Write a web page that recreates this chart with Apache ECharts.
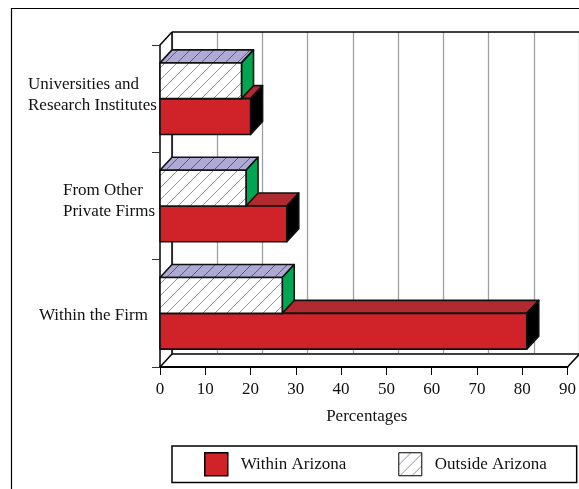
<!DOCTYPE html>
<html lang="en">

<head>
  <meta charset="UTF-8">
  <title>Percentages by source</title>
  <script src="https://cdn.jsdelivr.net/npm/echarts@6/dist/echarts.min.js"></script>
  <style>
    html, body { margin: 0; padding: 0; background: #fff; overflow: hidden; }
  </style>
</head>

<body>
  <div id="chart" style="width: 579px;height: 489px"></div>
  <script>
    // data, bottom category first
    var categories = ['Within the Firm', 'From Other\nPrivate Firms', 'Universities and\nResearch Institutes']
    var withinArizona = [81, 28, 20]
    var outsideArizona = [27, 19, 18]
    var xTicks = [0, 10, 20, 30, 40, 50, 60, 70, 80, 90]

    var FONT = '"Liberation Serif", "Times New Roman", serif'
    var DX = 12 // 3d depth of the boxes
    var DY = -13

    function hatch(bg, line) {
      var c = document.createElement('canvas')
      c.width = 12
      c.height = 12
      var g = c.getContext('2d')
      if (bg) {
        g.fillStyle = bg
        g.fillRect(0, 0, 12, 12)
      }
      g.strokeStyle = line
      g.lineWidth = 0.8
      g.beginPath()
      g.moveTo(-1, 13)
      g.lineTo(13, -1)
      g.moveTo(-1, 1)
      g.lineTo(1, -1)
      g.moveTo(11, 13)
      g.lineTo(13, 11)
      g.stroke()
      return { image: c, repeat: 'repeat' }
    }
    var hatchWhite = hatch('#ffffff', '#6f6ca6')
    var hatchTop = hatch('#aeaad4', '#45436e')

    // one 3d box: front, top, side
    function box(x0, x1, y0, y1, front, top, side) {
      function poly(points, fill) {
        return {
          type: 'polygon',
          shape: { points: points },
          style: { fill: fill, stroke: '#111', lineWidth: 1.6, lineJoin: 'round' }
        }
      }
      return {
        type: 'group',
        children: [
          poly([[x0, y0], [x0 + DX, y0 + DY], [x1 + DX, y0 + DY], [x1, y0]], top),
          poly([[x1, y0], [x1 + DX, y0 + DY], [x1 + DX, y1 + DY], [x1, y1]], side),
          poly([[x0, y0], [x1, y0], [x1, y1], [x0, y1]], front)
        ]
      }
    }

    function barRender(slot, front, top, side) {
      return function (params, api) {
        var p = api.coord([api.value(0), api.value(1)])
        var start = api.coord([0, api.value(1)])
        var band = api.size([0, 1])[1]
        var h = band / 3
        var y0 = p[1] + (slot === 0 ? 0 : -h)
        return box(start[0], p[0], y0, y0 + h, front, top, side)
      }
    }

    function frameRender(params, api) {
      var band = api.size([0, 1])[1]
      var a = api.coord([0, 0])
      var b = api.coord([90, 2])
      var left = a[0]
      var right = b[0]
      var bottom = a[1] + band / 2
      var topY = b[1] - band / 2
      function line(x1, y1, x2, y2) {
        return {
          type: 'line',
          shape: { x1: x1, y1: y1, x2: x2, y2: y2 },
          style: { stroke: '#000', lineWidth: 1.5 }
        }
      }
      return {
        type: 'group',
        children: [
          line(left, topY, left + DX, topY + DY),
          line(left + DX, topY + DY, right + DX, topY + DY),
          line(left + DX, topY + DY, left + DX, bottom + DY),
          line(left + DX, bottom + DY, right + DX, bottom + DY),
          line(left, bottom, left + DX, bottom + DY),
          line(right, bottom, right + DX, bottom + DY)
        ]
      }
    }

    var mCharts = echarts.init(document.getElementById('chart'))
    var option = {
      animation: false,
      backgroundColor: '#fff',
      textStyle: { fontFamily: FONT },
      graphic: [{
        type: 'rect',
        z: -1,
        shape: { x: 11.5, y: 8.5, width: 700, height: 700 },
        style: { fill: 'none', stroke: '#000', lineWidth: 1.2 }
      }],
      grid: [
        { left: 160, top: 45, width: 408, height: 322 },
        { left: 172, top: 32, width: 408, height: 321 }
      ],
      xAxis: [
        {
          gridIndex: 0, type: 'value', min: 0, max: 90, interval: 10,
          name: 'Percentages', nameLocation: 'middle', nameGap: 41,
          nameTextStyle: { fontFamily: FONT, fontSize: 17, color: '#111', padding: [0, 0, 0, 6] },
          axisLine: { show: true, lineStyle: { color: '#000', width: 2 } },
          axisTick: { show: true, length: 8, lineStyle: { color: '#000', width: 1 } },
          axisLabel: {
            fontFamily: FONT, fontSize: 17, color: '#111', margin: 14,
            showMinLabel: true, showMaxLabel: true,
            formatter: function (v) { return xTicks.indexOf(v) >= 0 ? String(v) : '' }
          },
          splitLine: { show: false }
        },
        {
          gridIndex: 1, type: 'value', min: 0, max: 90, interval: 10,
          axisLine: { show: false }, axisTick: { show: false }, axisLabel: { show: false },
          splitLine: { show: true, lineStyle: { color: '#a0a0a0', width: 1.3 } }
        }
      ],
      yAxis: [
        {
          gridIndex: 0, type: 'category', data: [
            { value: categories[0], textStyle: { padding: [4, 0, 0, 0] } },
            { value: categories[1], textStyle: { padding: [0, 0, 10, 0] } },
            { value: categories[2], textStyle: { padding: [0, 0, 8, 0] } }
          ],
          axisLine: { show: true, lineStyle: { color: '#000', width: 1.5 } },
          axisTick: { show: true, length: 8, lineStyle: { color: '#333', width: 1 } },
          axisLabel: {
            margin: 3,
            interval: 0,
            formatter: function (v, i) {
              var names = ['c', 'b', 'a']
              return v.split('\n').map(function (s) { return '{' + names[i] + '|' + s + '}' }).join('\n')
            },
            rich: {
              a: { width: 129, align: 'left', fontFamily: FONT, fontSize: 17, lineHeight: 21, color: '#111' },
              b: { width: 94, align: 'left', fontFamily: FONT, fontSize: 17, lineHeight: 21, color: '#111' },
              c: { width: 118, align: 'left', fontFamily: FONT, fontSize: 17, lineHeight: 21, color: '#111' }
            }
          }
        },
        {
          gridIndex: 1, type: 'category', data: categories,
          axisLine: { show: false }, axisTick: { show: false }, axisLabel: { show: false }
        }
      ],
      legend: {
        left: 172,
        top: 446,
        width: 380,
        padding: [6, 30, 6, 32],
        itemWidth: 23,
        itemHeight: 23,
        itemGap: 52,
        borderColor: '#000',
        borderWidth: 1.5,
        selectedMode: false,
        textStyle: { fontFamily: FONT, fontSize: 17, color: '#111', padding: [0, 0, 0, 8] },
        data: [
          { name: 'Within Arizona', icon: 'rect', itemStyle: { color: '#cf2229', borderColor: '#000', borderWidth: 1.5 } },
          { name: 'Outside Arizona', icon: 'rect', itemStyle: { color: hatchWhite, borderColor: '#000', borderWidth: 1 } }
        ]
      },
      series: [
        {
          name: 'frame', type: 'custom', xAxisIndex: 0, yAxisIndex: 0, z: 1, silent: true,
          clip: false, renderItem: frameRender, data: [[0, 0]], encode: { x: 0, y: 1 }
        },
        {
          name: 'Within Arizona', type: 'custom', xAxisIndex: 0, yAxisIndex: 0, z: 2,
          renderItem: barRender(0, '#cf2229', '#b02a30', '#000000'),
          itemStyle: { color: '#cf2229' },
          data: withinArizona.map(function (v, i) { return [v, i] }), encode: { x: 0, y: 1 }
        },
        {
          name: 'Outside Arizona', type: 'custom', xAxisIndex: 0, yAxisIndex: 0, z: 3,
          renderItem: barRender(1, hatchWhite, hatchTop, '#00a651'),
          itemStyle: { color: hatchWhite },
          data: outsideArizona.map(function (v, i) { return [v, i] }), encode: { x: 0, y: 1 }
        }
      ]
    }
    mCharts.setOption(option)
  </script>
</body>

</html>
